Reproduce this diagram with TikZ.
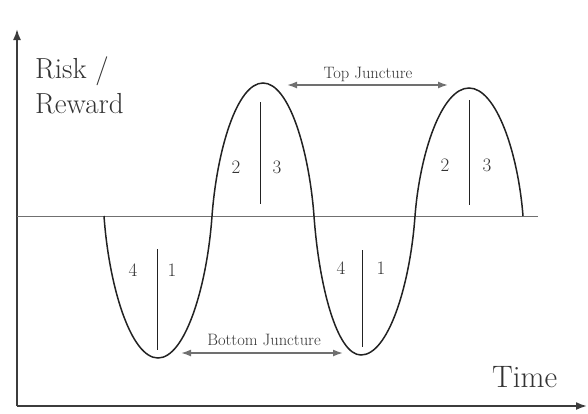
\documentclass[tikz,border=0pt]{standalone}
\usepackage{fontspec}
\usetikzlibrary{arrows.meta}
\definecolor{axisgray}{HTML}{3C3C3C}
\definecolor{curvecol}{HTML}{222222}
\definecolor{midgray}{HTML}{707070}
\definecolor{textgray}{HTML}{333333}
\begin{document}
\begin{tikzpicture}[x=1pt,y=-1pt,
  axis/.style={draw=axisgray,line width=1.8pt,-{Latex[length=11pt,width=8pt]}},
  wave/.style={draw=curvecol,line width=1.5pt},
  midline/.style={draw=midgray,line width=1pt},
  divider/.style={draw=curvecol,line width=0.9pt},
  juncture/.style={draw=midgray,line width=1.6pt,{Latex[length=10pt,width=7pt]}-{Latex[length=10pt,width=7pt]}},
  biglabel/.style={text=textgray,inner sep=0pt,font=\fontsize{29}{35}\selectfont},
  timelabel/.style={text=textgray,inner sep=0pt,font=\fontsize{31}{36}\selectfont},
  junclabel/.style={text=textgray,inner sep=0pt,font=\fontsize{16.5}{20}\selectfont},
  phaselabel/.style={text=textgray,inner sep=0pt,font=\fontsize{19}{22}\selectfont}]
\useasboundingbox (0,0) rectangle (588,413);
% axes
\coordinate (origin) at (17,406);
\coordinate (ytip) at (17,29);
\coordinate (xtip) at (587,406);
\draw[axis] (origin) -- (ytip);
\draw[axis] (origin) -- (xtip);
% midline
\coordinate (midL) at (17,216);
\coordinate (midR) at (538,216);
\draw[midline] (midL) -- (midR);
% wave
\coordinate (z0) at (104,216);
\coordinate (t1) at (158,358);
\coordinate (z1) at (212,216);
\coordinate (p1) at (263,83);
\coordinate (z2) at (314,216);
\coordinate (t2) at (361,355);
\coordinate (z3) at (415,216);
\coordinate (p2) at (469,88);
\coordinate (z4) at (523,216);
\draw[wave] (z0) .. controls (109,287) and (131,358) .. (t1)
  .. controls (185,358) and (207,287) .. (z1)
  .. controls (217,150) and (237,83) .. (p1)
  .. controls (289,83) and (309,150) .. (z2)
  .. controls (319,286) and (337,355) .. (t2)
  .. controls (388,355) and (410,286) .. (z3)
  .. controls (420,152) and (442,88) .. (p2)
  .. controls (496,88) and (518,152) .. (z4);
% dividers
\coordinate (d1a) at (157,249); \coordinate (d1b) at (157,350);
\coordinate (d2a) at (260,102); \coordinate (d2b) at (260,204);
\coordinate (d3a) at (362,250); \coordinate (d3b) at (362,347);
\coordinate (d4a) at (469,100); \coordinate (d4b) at (469,205);
\draw[divider] (d1a) -- (d1b);
\draw[divider] (d2a) -- (d2b);
\draw[divider] (d3a) -- (d3b);
\draw[divider] (d4a) -- (d4b);
% phase labels
\node[phaselabel] (n4a) at (133,270) {4};
\node[phaselabel] (n1a) at (172,270) {1};
\node[phaselabel] (n2a) at (236,167) {2};
\node[phaselabel] (n3a) at (277,167) {3};
\node[phaselabel] (n4b) at (341,268) {4};
\node[phaselabel] (n1b) at (381,268) {1};
\node[phaselabel] (n2b) at (445,165) {2};
\node[phaselabel] (n3b) at (487,165) {3};
% junctures
\coordinate (topL) at (287,85);
\coordinate (topR) at (448,85);
\draw[juncture] (topL) -- (topR);
\node[junclabel,anchor=base] (toplab) at (368,78) {Top Juncture};
\coordinate (botL) at (181,353);
\coordinate (botR) at (343,353);
\draw[juncture] (botL) -- (botR);
\node[junclabel,anchor=base] (botlab) at (264,345) {Bottom Juncture};
% axis labels
\node[biglabel,anchor=base west] (risk) at (35,78) {Risk /};
\node[biglabel,anchor=base west] (reward) at (35,113) {Reward};
\node[timelabel,anchor=base west] (time) at (492,387) {Time};
\end{tikzpicture}
\end{document}
